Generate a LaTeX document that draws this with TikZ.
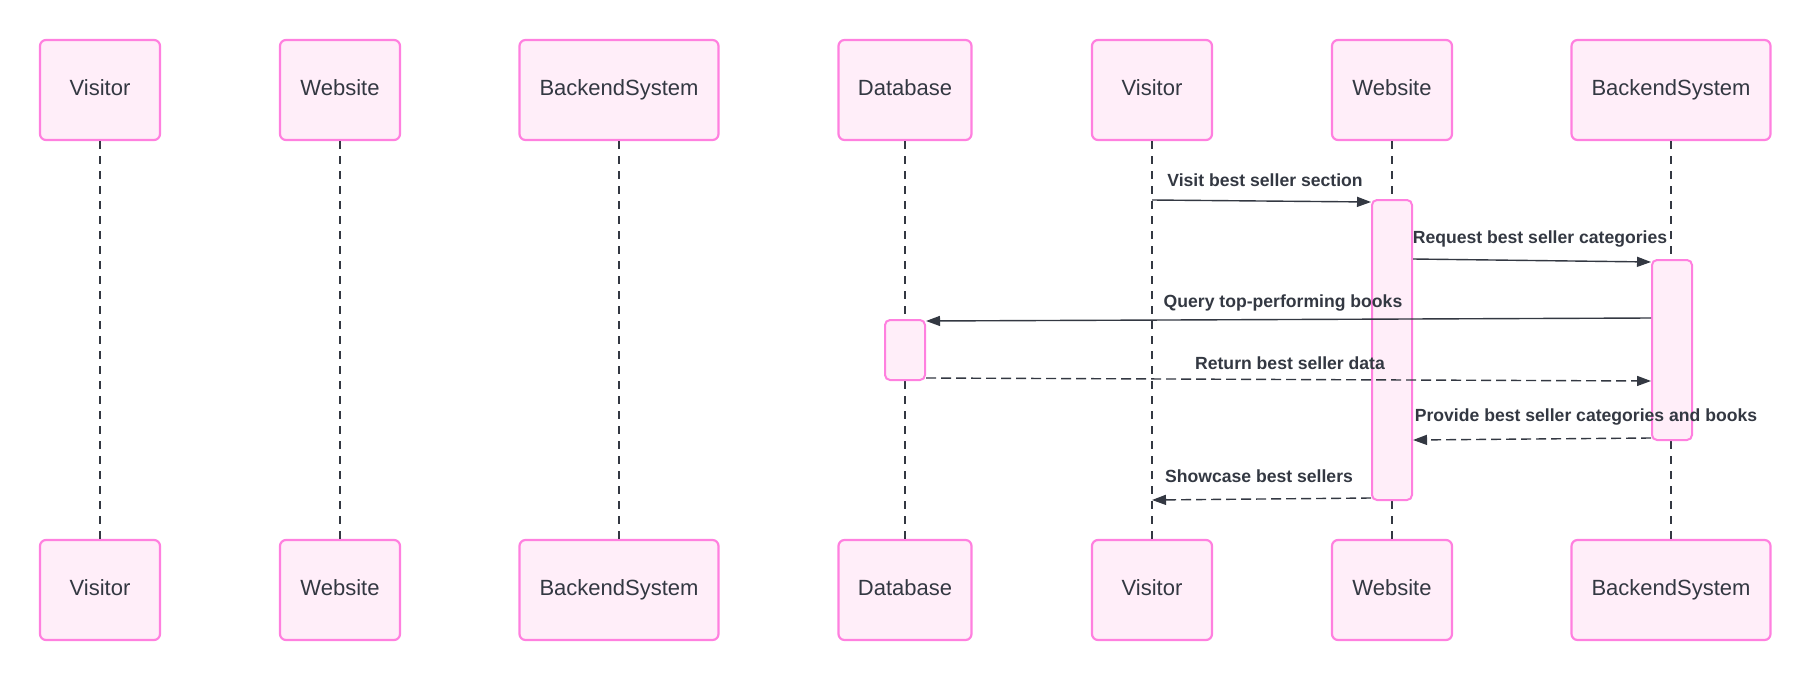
\documentclass[tikz,border=0pt]{standalone}
\usepackage{fontspec}
\setmainfont{Liberation Sans}
\usetikzlibrary{arrows.meta}
\definecolor{boxfill}{HTML}{FFEEF9}
\definecolor{boxdraw}{HTML}{FF80DF}
\definecolor{ink}{HTML}{333842}
\begin{document}
\begin{tikzpicture}[x=1pt,y=-1pt,
 actor/.style={draw=boxdraw, fill=boxfill, line width=2.2pt, rounded corners=6pt, minimum height=100pt, inner sep=0pt, text=ink, text height=16pt, text depth=5pt, font=\fontsize{22}{26}\selectfont},
 life/.style={draw=ink, line width=1.3pt, dash pattern=on 8pt off 7pt},
 act/.style={draw=boxdraw, fill=boxfill, line width=2pt, rounded corners=5pt, minimum width=40pt, inner sep=0pt},
 msg/.style={draw=ink, line width=1.4pt, -{Triangle[length=14pt,width=10pt]}},
 reply/.style={msg, dash pattern=on 10pt off 5pt},
 lbl/.style={text=ink, font=\bfseries\fontsize{17.6}{21}\selectfont, inner sep=0pt}]
\useasboundingbox (0,0) rectangle (1811,680);
% top actors
\node[actor, minimum width=120pt] (v1t) at (100,90) {Visitor};
\node[actor, minimum width=120pt] (w1t) at (340,90) {Website};
\node[actor, minimum width=199pt] (b1t) at (619,90) {BackendSystem};
\node[actor, minimum width=133pt] (dt)  at (905,90) {Database};
\node[actor, minimum width=120pt] (v2t) at (1152,90) {Visitor};
\node[actor, minimum width=120pt] (w2t) at (1392,90) {Website};
\node[actor, minimum width=199pt] (b2t) at (1671,90) {BackendSystem};
% bottom actors
\node[actor, minimum width=120pt] (v1b) at (100,590) {Visitor};
\node[actor, minimum width=120pt] (w1b) at (340,590) {Website};
\node[actor, minimum width=199pt] (b1b) at (619,590) {BackendSystem};
\node[actor, minimum width=133pt] (db)  at (905,590) {Database};
\node[actor, minimum width=120pt] (v2b) at (1152,590) {Visitor};
\node[actor, minimum width=120pt] (w2b) at (1392,590) {Website};
\node[actor, minimum width=199pt] (b2b) at (1671,590) {BackendSystem};
% lifelines
\draw[life] (v1t.south) -- (v1b.north);
\draw[life] (w1t.south) -- (w1b.north);
\draw[life] (b1t.south) -- (b1b.north);
\draw[life] (dt.south) -- (db.north);
\draw[life] (v2t.south) -- (v2b.north);
\draw[life] (w2t.south) -- (w2b.north);
\draw[life] (b2t.south) -- (b2b.north);
% activations
\node[act, minimum height=300pt] (aW) at (1392,350) {};
\node[act, minimum height=180pt] (aB) at (1672,350) {};
\node[act, minimum height=60pt]  (aD) at (905,350) {};
% messages
\draw[msg] (v2t.south |- 0,200) -- (aW.west |- 0,202);
\node[lbl] (l1) at (1265,180) {Visit best seller section};
\draw[msg] (aW.east |- 0,259) -- (aB.west |- 0,262);
\node[lbl] (l2) at (1540,239) {Request best seller categories};
\draw[msg] (aB.west |- 0,318) -- (aD.east |- 0,321);
\node[lbl] (l3) at (1283,303) {Query top-performing books};
\draw[reply] (aD.east |- 0,378) -- (aB.west |- 0,381);
\node[lbl] (l4) at (1290,363) {Return best seller data};
\draw[reply] (aB.west |- 0,438) -- (aW.east |- 0,440);
\node[lbl] (l5) at (1586,417) {Provide best seller categories and books};
\draw[reply] (aW.west |- 0,498) -- (v2t.south |- 0,500);
\node[lbl] (l6) at (1259,476) {Showcase best sellers};
\end{tikzpicture}
\end{document}
